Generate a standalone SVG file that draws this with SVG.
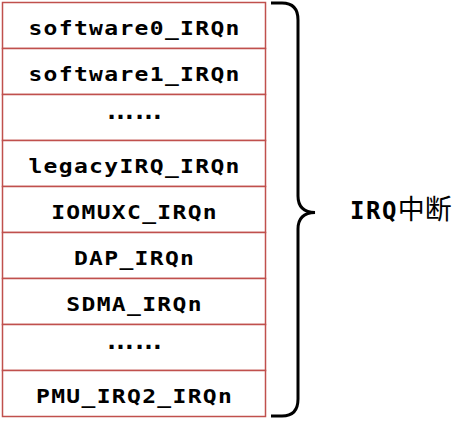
<svg xmlns="http://www.w3.org/2000/svg" width="465" height="424" viewBox="0 0 465 424">
<style>
.cell{fill:#ffffff;stroke:#c0504d;stroke-width:1.5}
.t{font-family:"DejaVu Sans Mono","Liberation Mono",monospace;font-weight:bold;font-size:20px;letter-spacing:1.15px;text-anchor:middle;fill:#000}
.dots{font-family:"Liberation Sans",Arial,sans-serif;font-weight:bold;font-size:28px;text-anchor:middle;fill:#000}
.brace{fill:none;stroke:#000;stroke-width:3;stroke-linecap:butt}
.lbl{font-family:"DejaVu Sans Mono","Liberation Mono",monospace;font-weight:bold;font-size:24px;letter-spacing:1.5px;fill:#000}
.cjk{font-family:"Noto Sans CJK SC","Noto Sans",sans-serif;font-weight:normal;font-size:27px;letter-spacing:0}
</style>
<rect width="465" height="424" fill="#ffffff"/>
<g id="row-software0"><rect class="cell" x="2.5" y="2.5" width="263" height="46"/><text class="t" transform="translate(134.6,34.5) scale(1.15,1)">software0_IRQn</text></g>
<g id="row-software1"><rect class="cell" x="2.5" y="48.5" width="263" height="46"/><text class="t" transform="translate(134.6,80.5) scale(1.15,1)">software1_IRQn</text></g>
<g id="row-dots1"><rect class="cell" x="2.5" y="94.5" width="263" height="46"/><text class="dots" x="134.5" y="119">……</text></g>
<g id="row-legacy"><rect class="cell" x="2.5" y="140.5" width="263" height="46"/><text class="t" transform="translate(134.6,172.5) scale(1.15,1)">legacyIRQ_IRQn</text></g>
<g id="row-iomuxc"><rect class="cell" x="2.5" y="186.5" width="263" height="46"/><text class="t" transform="translate(134.6,218.5) scale(1.15,1)">IOMUXC_IRQn</text></g>
<g id="row-dap"><rect class="cell" x="2.5" y="232.5" width="263" height="46"/><text class="t" transform="translate(134.6,264.5) scale(1.15,1)">DAP_IRQn</text></g>
<g id="row-sdma"><rect class="cell" x="2.5" y="278.5" width="263" height="46"/><text class="t" transform="translate(134.6,310.5) scale(1.15,1)">SDMA_IRQn</text></g>
<g id="row-dots2"><rect class="cell" x="2.5" y="324.5" width="263" height="46"/><text class="dots" x="134.5" y="349">……</text></g>
<g id="row-pmu"><rect class="cell" x="2.5" y="370.5" width="263" height="46"/><text class="t" transform="translate(134.6,402.5) scale(1.15,1)">PMU_IRQ2_IRQn</text></g>
<g id="connectors">
<path class="brace" d="M271,3 L282,3 Q298,3 298,20 L298,196 Q298,212 315,212.5 Q298,213 298,229 L298,399 Q298,416 282,416 L271,416"/>
</g>
<g id="label-irq"><text class="lbl" x="350" y="219">IRQ<tspan class="cjk">中断</tspan></text></g>
</svg>
